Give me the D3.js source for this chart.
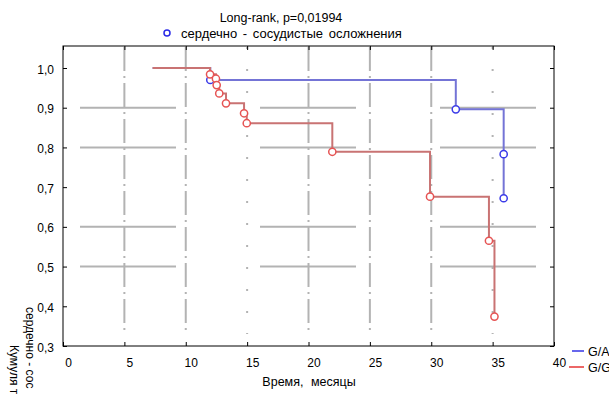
<!DOCTYPE html>
<html>
<head>
<meta charset="utf-8">
<script src="https://cdn.jsdelivr.net/npm/d3@7"></script>
<style>
  body { margin: 0; background: #fff; }
  svg { font-family: "Liberation Sans", Arial, sans-serif; }
</style>
</head>
<body>
<div class="chart"></div>
<script>
// survival curves (time in months, cumulative proportion)
const groupNames = ["G/A", "G/G"];
const gaTimes = [7.3, 12.0, 32.0, 35.9, 35.9];
const gaValues = [1.0, 0.970, 0.896, 0.783, 0.672];
const ggTimes = [7.3, 11.98, 12.46, 12.52, 12.73, 13.28, 14.75, 14.97, 21.94, 29.9, 34.7, 35.15];
const ggValues = [1.0, 0.984, 0.973, 0.957, 0.936, 0.911, 0.886, 0.861, 0.789, 0.676, 0.565, 0.374];

const xTicks = [0, 5, 10, 15, 20, 25, 30, 35, 40];
const yTicks = [0.3, 0.4, 0.5, 0.6, 0.7, 0.8, 0.9, 1.0];
const yGrid = [0.5, 0.6, 0.8, 0.9];
const xGrid = [5, 10, 15, 20, 25, 30, 35];
const xGridDotted = [15, 35];

const title = "Long-rank, p=0,01994";
const legendTitle = "сердечно - сосудистые осложнения";
const xLabel = "Время, месяцы";
const yLabelLines = ["сердечно - сос", "Кумуля т"];

const W = 609, H = 394;
const plot = {left: 63, right: 554, top: 46, bottom: 346};

const svg = d3.select(".chart")
  .append("svg")
    .attr("width", W)
    .attr("height", H);

const x = d3.scaleLinear().domain([0, 40]).range([plot.left, plot.right]);
const y = d3.scaleLinear().domain([0.3, 1.0554]).range([plot.bottom, plot.top]);

// grid
svg.append("g")
  .selectAll("line")
  .data(yGrid)
  .join("line")
    .attr("x1", plot.left).attr("x2", plot.right)
    .attr("y1", d => y(d)).attr("y2", d => y(d))
    .attr("stroke", "#b3b3b3")
    .attr("stroke-width", 2)
    .attr("stroke-dasharray", "96,84")
    .attr("stroke-dashoffset", 163);

svg.append("g")
  .selectAll("line")
  .data(xGrid)
  .join("line")
    .attr("x1", d => x(d)).attr("x2", d => x(d))
    .attr("y1", plot.top + 1).attr("y2", plot.bottom - 12)
    .attr("stroke", "#b3b3b3")
    .attr("stroke-width", 2)
    .attr("stroke-dasharray", d => xGridDotted.includes(d) ? "2,20" : "24,5,2,5");

// frame + inward ticks on all sides
svg.append("rect")
  .attr("x", plot.left).attr("y", plot.top)
  .attr("width", plot.right - plot.left).attr("height", plot.bottom - plot.top)
  .attr("fill", "none")
  .attr("stroke", "#000");

const fmt = d => d3.format(".1f")(d).replace(".", ",");

svg.append("g")
  .attr("transform", `translate(0,${plot.bottom})`)
  .call(d3.axisBottom(x).tickValues(xTicks).tickSizeInner(-4).tickSizeOuter(0).tickPadding(12))
  .call(g => g.select(".domain").remove())
  .call(g => g.selectAll("text").attr("dx", 5).style("font-size", "12px"));

svg.append("g")
  .attr("transform", `translate(0,${plot.top})`)
  .call(d3.axisTop(x).tickValues(xTicks).tickSizeInner(-4).tickSizeOuter(0).tickFormat(""))
  .call(g => g.select(".domain").remove());

svg.append("g")
  .attr("transform", `translate(${plot.left},0)`)
  .call(d3.axisLeft(y).tickValues(yTicks).tickSizeInner(-4).tickSizeOuter(0).tickPadding(9).tickFormat(fmt))
  .call(g => g.select(".domain").remove())
  .call(g => g.selectAll("text").attr("dy", "0.42em").style("font-size", "12px"));

svg.append("g")
  .attr("transform", `translate(${plot.right},0)`)
  .call(d3.axisRight(y).tickValues(yTicks).tickSizeInner(-4).tickSizeOuter(0).tickFormat(""))
  .call(g => g.select(".domain").remove());

// curves
const ga = gaTimes.map((t, i) => ({t: t, s: gaValues[i]}));
const gg = ggTimes.map((t, i) => ({t: t, s: ggValues[i]}));

const step = d3.line()
  .x(d => x(d.t))
  .y(d => y(d.s))
  .curve(d3.curveStepAfter);

svg.append("path")
  .datum(ga)
  .attr("d", step)
  .attr("fill", "none")
  .attr("stroke", "#7474d6")
  .attr("stroke-width", 2);

svg.append("path")
  .datum(gg)
  .attr("d", step)
  .attr("fill", "none")
  .attr("stroke", "#c97373")
  .attr("stroke-width", 2);

svg.append("g")
  .selectAll("circle")
  .data(ga.slice(1))
  .join("circle")
    .attr("cx", d => x(d.t))
    .attr("cy", d => y(d.s))
    .attr("r", 3.6)
    .attr("fill", "#fff")
    .attr("stroke", "#3b3be8")
    .attr("stroke-width", 1.5);

svg.append("g")
  .selectAll("circle")
  .data(gg.slice(1))
  .join("circle")
    .attr("cx", d => x(d.t))
    .attr("cy", d => y(d.s))
    .attr("r", 3.6)
    .attr("fill", "#fff")
    .attr("stroke", "#e65454")
    .attr("stroke-width", 1.5);

// titles
svg.append("text")
  .attr("x", 281).attr("y", 22)
  .attr("text-anchor", "middle")
  .style("font-size", "12.5px")
  .text(title);

svg.append("circle")
  .attr("cx", 167).attr("cy", 33).attr("r", 3)
  .attr("fill", "#fff")
  .attr("stroke", "#2a2ae6")
  .attr("stroke-width", 1.5);

svg.append("text")
  .attr("x", 181).attr("y", 37.5)
  .style("font-size", "13px")
  .style("word-spacing", "2px")
  .text(legendTitle);

svg.append("text")
  .attr("x", 309).attr("y", 386)
  .attr("text-anchor", "middle")
  .style("font-size", "12.5px")
  .style("word-spacing", "4px")
  .text(xLabel);

svg.append("g")
  .selectAll("text")
  .data(yLabelLines)
  .join("text")
    .attr("transform", (d, i) => i == 0 ? "translate(26,307) rotate(90)" : "translate(10,345) rotate(90)")
    .style("font-size", "12px")
    .text(d => d);

// group legend
const groupColors = ["#0000e0", "#e00000"];
const legend = svg.append("g")
  .selectAll("g")
  .data(groupNames)
  .join("g")
    .attr("transform", (d, i) => `translate(0,${351 + i * 16})`);

legend.append("line")
  .attr("x1", (d, i) => i == 0 ? 572 : 569).attr("x2", 584)
  .attr("stroke", (d, i) => groupColors[i])
  .attr("stroke-width", 1.2);

legend.append("text")
  .attr("x", 588).attr("y", 4.5)
  .style("font-size", "12.5px")
  .text(d => d);
</script>
</body>
</html>
